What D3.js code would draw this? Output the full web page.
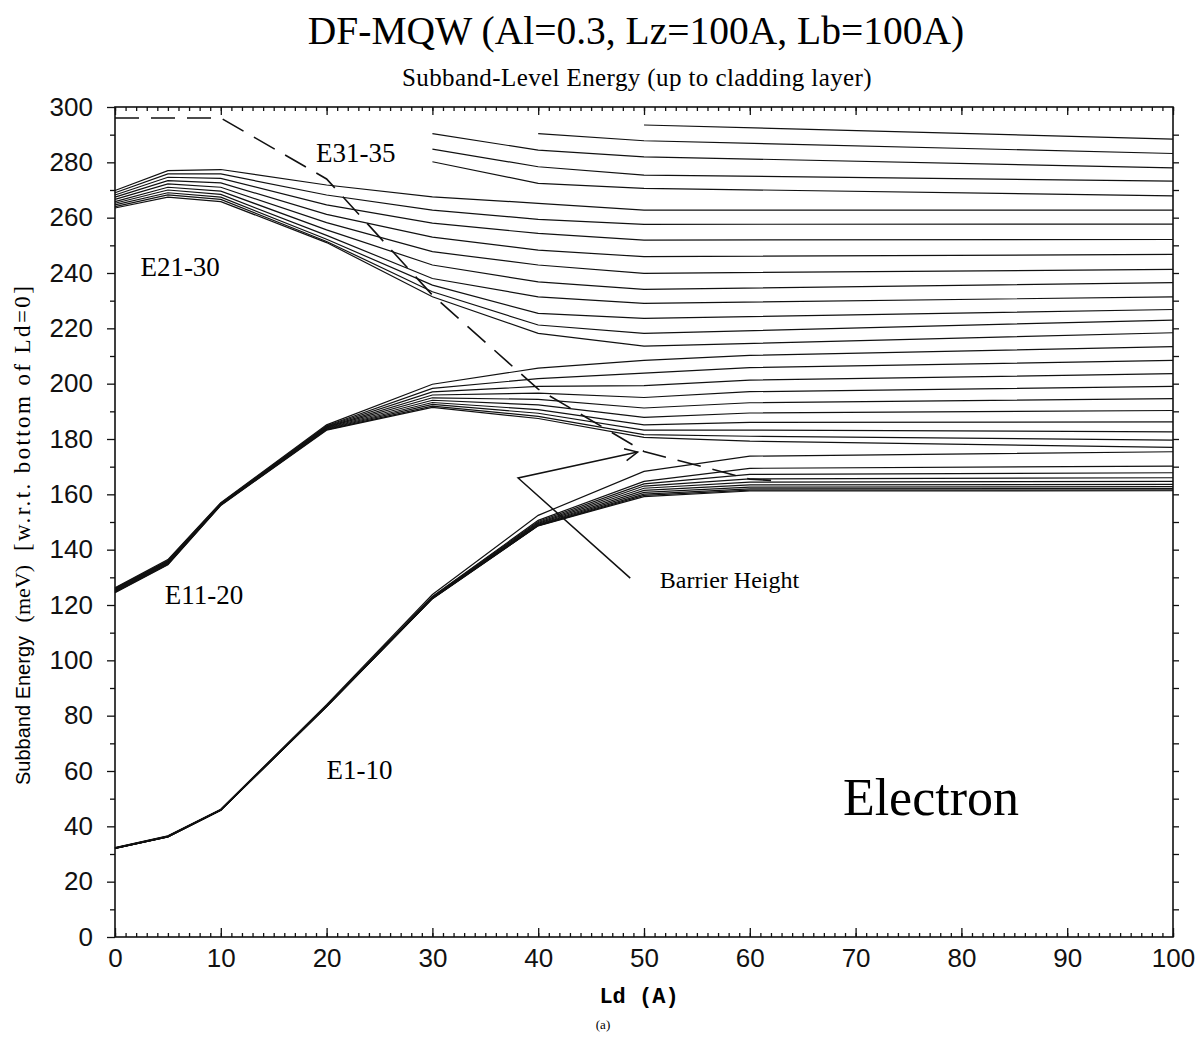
<!DOCTYPE html>
<html>
<head>
<meta charset="utf-8">
<script src="https://cdn.jsdelivr.net/npm/d3@7"></script>
<style>
  html, body { margin: 0; padding: 0; background: #fff; }
  svg { display: block; }
  .tick text { font-family: "Liberation Sans", Arial, sans-serif; font-size: 26px; fill: #111; }
  .tick line { stroke: #111; stroke-width: 1.3; }
  .level { fill: none; stroke: #111; stroke-width: 1.2; }
</style>
</head>
<body>
<svg id="chart" width="1199" height="1045"></svg>
<script>
const ld = [0, 5, 10, 20, 30, 40, 50, 60, 100];

// E1-10 (bottom to top)
const levelsE1to10 = [
  [32.0, 36.2, 45.8, 83.3, 122.3, 148.6, 159.2, 161.2, 161.3],
  [32.0, 36.2, 45.8, 83.3, 122.3, 148.7, 159.6, 161.5, 161.6],
  [32.0, 36.2, 45.8, 83.3, 122.4, 148.8, 160.1, 162.0, 162.1],
  [32.0, 36.3, 45.9, 83.4, 122.4, 149.0, 160.7, 162.6, 162.8],
  [32.1, 36.3, 45.9, 83.4, 122.5, 149.2, 161.4, 163.4, 163.6],
  [32.1, 36.3, 45.9, 83.5, 122.6, 149.5, 162.2, 164.4, 164.7],
  [32.1, 36.4, 46.0, 83.5, 122.7, 149.8, 163.0, 165.6, 166.0],
  [32.2, 36.4, 46.0, 83.6, 122.9, 150.2, 163.8, 167.2, 167.8],
  [32.2, 36.5, 46.1, 83.7, 123.1, 150.6, 164.7, 169.4, 170.2],
  [32.3, 36.6, 46.2, 84.0, 123.8, 152.4, 168.3, 173.8, 175.4]
];

// E11-20
const levelsE11to20 = [
  [124.4, 134.5, 156.0, 183.2, 191.4, 187.4, 180.6, 179.2, 177.0],
  [124.6, 134.7, 156.1, 183.4, 191.9, 188.2, 181.6, 181.0, 179.6],
  [124.8, 134.9, 156.2, 183.6, 192.5, 189.3, 183.2, 183.2, 182.6],
  [125.0, 135.1, 156.3, 183.8, 193.2, 190.6, 185.1, 186.0, 186.2],
  [125.2, 135.3, 156.4, 184.0, 194.0, 192.3, 187.8, 189.4, 190.3],
  [125.4, 135.5, 156.5, 184.2, 194.9, 194.3, 191.2, 193.1, 194.6],
  [125.6, 135.7, 156.6, 184.4, 195.9, 196.6, 195.0, 197.1, 199.0],
  [125.8, 135.9, 156.7, 184.6, 197.0, 199.0, 199.3, 201.3, 203.6],
  [126.0, 136.1, 156.8, 184.8, 198.3, 201.8, 203.8, 205.8, 208.4],
  [126.2, 136.4, 157.0, 185.1, 199.8, 205.6, 208.4, 210.2, 213.4]
];

// E21-30 (no sample at Ld=60)
const levelsE21to30 = [
  [263.5, 267.4, 265.8, 251.0, 231.4, 218.2, 213.6, null, 218.4],
  [264.0, 268.2, 266.6, 251.4, 233.2, 221.2, 218.2, null, 223.0],
  [264.6, 269.0, 267.4, 252.2, 235.6, 225.4, 223.6, null, 226.8],
  [265.2, 270.0, 268.4, 253.6, 238.0, 231.4, 229.0, null, 231.4],
  [265.8, 271.0, 269.6, 255.6, 242.9, 236.8, 234.1, null, 236.5],
  [266.6, 272.2, 271.0, 258.2, 247.7, 242.9, 239.9, null, 241.3],
  [267.4, 273.4, 272.6, 261.2, 253.0, 248.3, 245.9, null, 246.7],
  [268.2, 274.6, 274.2, 264.6, 258.0, 254.3, 251.9, null, 252.1],
  [269.0, 275.8, 275.8, 268.2, 262.7, 259.4, 257.6, null, 257.7],
  [269.8, 277.0, 277.4, 271.8, 267.5, 265.2, 262.7, null, 262.7]
];

// E31-35 only exist below the cladding barrier for larger Ld
const levelsE31to35 = [
  [null, null, null, null, 280.2, 272.4, 270.6, null, 267.9],
  [null, null, null, null, 284.8, 278.4, 275.4, null, 273.2],
  [null, null, null, null, 290.4, 284.4, 282.0, null, 278.0],
  [null, null, null, null, null, 290.4, 287.8, null, 283.2],
  [null, null, null, null, null, null, 293.5, null, 288.4]
];

const barrierLd = [0, 10, 20, 30, 40, 50, 60, 63];
const barrierE = [296, 296, 274, 232, 198, 175.5, 165.5, 164.8];

const groupLabels = [
  { text: "E31-35", ld: 19.0, e: 280.0 },
  { text: "E21-30", ld: 2.4, e: 239.0 },
  { text: "E11-20", ld: 4.7, e: 120.5 },
  { text: "E1-10", ld: 20.0, e: 57.0 }
];

const arrowPath = [
  { ld: 48.7, e: 129.7 },
  { ld: 38.1, e: 165.9 },
  { ld: 49.4, e: 175.3 }
];

const xTicks = d3.range(0, 101, 10);
const yTicks = d3.range(0, 301, 20);

const svg = d3.select("#chart");
const x = d3.scaleLinear().domain([0, 100]).range([115, 1173]);
const y = d3.scaleLinear().domain([0, 300]).range([937, 107]);

svg.append("rect").attr("width", 1199).attr("height", 1045).attr("fill", "#fff");

// titles
svg.append("text")
  .attr("x", 636).attr("y", 44)
  .attr("text-anchor", "middle")
  .attr("font-family", "Liberation Serif, Times New Roman, serif")
  .attr("font-size", 39.5)
  .text("DF-MQW (Al=0.3, Lz=100A, Lb=100A)");

svg.append("text")
  .attr("x", 637).attr("y", 86)
  .attr("text-anchor", "middle")
  .attr("font-family", "Liberation Serif, Times New Roman, serif")
  .attr("font-size", 25)
  .attr("letter-spacing", 0.4)
  .text("Subband-Level Energy (up to cladding layer)");

// axes
const axisL = svg.append("g").attr("transform", `translate(${x(0)},0)`);
axisL.call(d3.axisLeft(y).tickValues(yTicks).tickSize(8).tickPadding(14));
axisL.append("g").call(d3.axisLeft(y).tickValues(d3.range(10, 300, 20)).tickSize(5).tickFormat(""));

const axisR = svg.append("g").attr("transform", `translate(${x(100)},0)`);
axisR.call(d3.axisRight(y).tickValues(d3.range(10, 300, 10)).tickSize(6).tickFormat(""));

const axisB = svg.append("g").attr("transform", `translate(0,${y(0)})`);
axisB.call(d3.axisBottom(x).tickValues(xTicks).tickSize(-9).tickPadding(12));
axisB.append("g").call(d3.axisBottom(x).tickValues(d3.range(0, 101, 1)).tickSize(-4).tickFormat(""));

const axisT = svg.append("g").attr("transform", `translate(0,${y(300)})`);
axisT.call(d3.axisTop(x).tickValues(xTicks).tickSize(-8).tickFormat(""));
axisT.append("g").call(d3.axisTop(x).tickValues(d3.range(0, 101, 1)).tickSize(-4).tickFormat(""));

svg.selectAll(".domain").remove();

svg.append("rect")
  .attr("x", x(0)).attr("y", y(300))
  .attr("width", x(100) - x(0)).attr("height", y(0) - y(300))
  .attr("fill", "none").attr("stroke", "#111").attr("stroke-width", 1.6);

// subband levels
const line = d3.line().x(d => x(d.ld)).y(d => y(d.e));
const toPoints = row => row.map((e, i) => ({ ld: ld[i], e })).filter(d => d.e !== null);
const levels = [...levelsE1to10, ...levelsE11to20, ...levelsE21to30, ...levelsE31to35];

svg.append("g").selectAll("path")
  .data(levels)
  .join("path")
  .attr("class", "level")
  .attr("d", row => line(toPoints(row)));

// barrier height
svg.append("path")
  .datum(barrierLd.map((v, i) => ({ ld: v, e: barrierE[i] })))
  .attr("fill", "none")
  .attr("stroke", "#111")
  .attr("stroke-width", 1.6)
  .attr("stroke-dasharray", "24,12")
  .attr("d", line);

// annotation arrow
svg.append("path")
  .datum(arrowPath)
  .attr("fill", "none").attr("stroke", "#111").attr("stroke-width", 1.5)
  .attr("d", line);

const tip = arrowPath[2], from = arrowPath[1];
const ang = Math.atan2(y(tip.e) - y(from.e), x(tip.ld) - x(from.ld));
const head = [ang - 0.45, ang + 0.45].map(a => [x(tip.ld) - 14 * Math.cos(a), y(tip.e) - 14 * Math.sin(a)]);
svg.append("path")
  .attr("fill", "none").attr("stroke", "#111").attr("stroke-width", 1.5)
  .attr("d", `M${head[0]}L${x(tip.ld)},${y(tip.e)}L${head[1]}`);

svg.append("text")
  .attr("x", x(51.5)).attr("y", y(126.1))
  .attr("font-family", "Liberation Serif, Times New Roman, serif")
  .attr("font-size", 24)
  .text("Barrier Height");

svg.append("g").selectAll("text")
  .data(groupLabels)
  .join("text")
  .attr("x", d => x(d.ld)).attr("y", d => y(d.e))
  .attr("font-family", "Liberation Serif, Times New Roman, serif")
  .attr("font-size", 27)
  .text(d => d.text);

svg.append("text")
  .attr("x", x(68.8)).attr("y", y(44.1))
  .attr("font-family", "Liberation Serif, Times New Roman, serif")
  .attr("font-size", 52)
  .text("Electron");

// axis titles
const yTitle = svg.append("text")
  .attr("transform", "translate(30,785) rotate(-90)")
  .attr("font-size", 20);
yTitle.append("tspan").attr("font-family", "Liberation Sans, Arial, sans-serif").text("Subband Energy ");
yTitle.append("tspan").attr("font-family", "Liberation Serif, Times New Roman, serif").attr("dx", 8).attr("font-size", 22).text("(meV)");
yTitle.append("tspan").attr("font-family", "Liberation Serif, Times New Roman, serif").attr("dx", 14)
  .attr("font-size", 23).attr("letter-spacing", 2.4).text("[w.r.t. bottom of Ld=0]");

svg.append("text")
  .attr("x", 639).attr("y", 1003)
  .attr("text-anchor", "middle")
  .attr("font-family", "Liberation Mono, DejaVu Sans Mono, monospace")
  .attr("font-weight", "bold")
  .attr("font-size", 22)
  .text("Ld (A)");

svg.append("text")
  .attr("x", 603).attr("y", 1029)
  .attr("text-anchor", "middle")
  .attr("font-family", "Liberation Serif, Times New Roman, serif")
  .attr("font-size", 13)
  .text("(a)");
</script>
</body>
</html>
